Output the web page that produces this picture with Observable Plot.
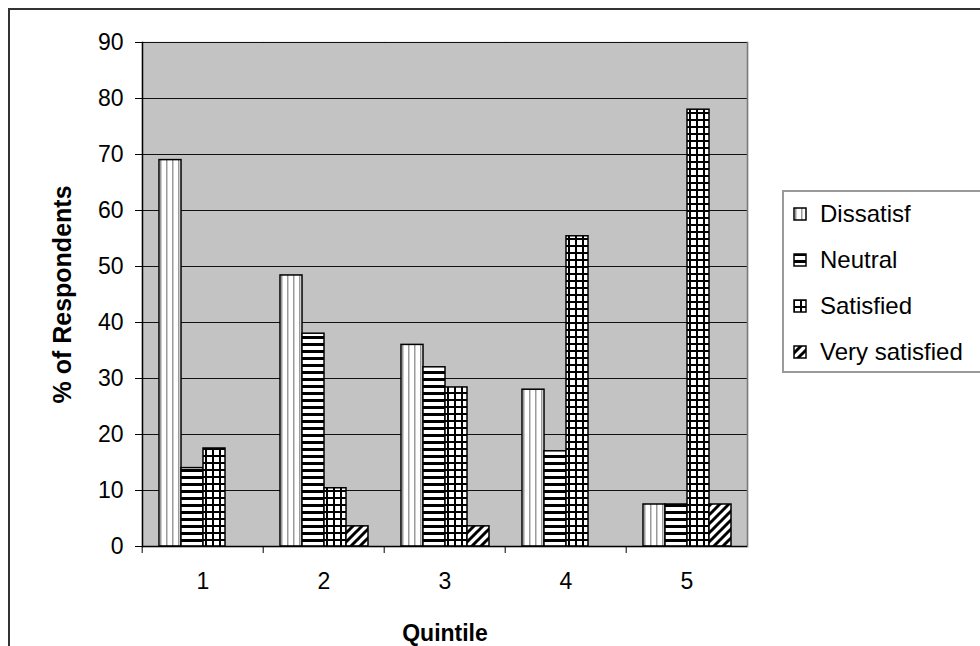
<!DOCTYPE html>
<html><head><meta charset="utf-8">
<script src="https://cdn.jsdelivr.net/npm/d3@7"></script>
<script src="https://cdn.jsdelivr.net/npm/@observablehq/plot@0.6"></script>
<style>
html,body{margin:0;padding:0;background:#fff;}
#wrap{position:relative;width:980px;height:646px;overflow:hidden;font-family:"Liberation Sans",Arial,sans-serif;background:#fff;}
#chart{position:absolute;left:0;top:0;}
#border{position:absolute;left:8px;top:8px;width:1100px;height:1100px;border-left:2px solid #333;border-top:2px solid #333;pointer-events:none;}
#legend{position:absolute;left:782px;top:190px;width:230px;height:183px;border:2px solid #9a9a9a;background:#fff;box-sizing:border-box;}
.item{position:absolute;left:9px;height:26px;display:flex;align-items:center;font-size:24px;color:#000;white-space:nowrap;}
.item svg{margin-right:13px;}
#chart svg [aria-label="y-axis label"]{font-weight:bold;font-size:25px;}
#chart svg [aria-label="fx-axis label"]{font-weight:bold;font-size:23px;}
#chart svg [aria-label="y-axis tick label"],#chart svg [aria-label="fx-axis tick label"]{font-size:23px;}
</style></head>
<body>
<svg width="0" height="0" style="position:absolute">
<defs>
<pattern id="pDis" patternUnits="userSpaceOnUse" width="6" height="6">
  <rect width="6" height="6" fill="#fff"/>
  <rect x="2" width="1.5" height="6" fill="#9a9a9a"/>
</pattern>
<pattern id="pNeu" patternUnits="userSpaceOnUse" width="7" height="7">
  <rect width="7" height="7" fill="#fff"/>
  <rect y="0" width="7" height="3" fill="#000"/>
</pattern>
<pattern id="pSat" patternUnits="userSpaceOnUse" width="7" height="7">
  <rect width="7" height="7" fill="#fff"/>
  <rect width="7" height="2" fill="#000"/>
  <rect width="2" height="7" fill="#000"/>
</pattern>
<pattern id="pVery" patternUnits="userSpaceOnUse" width="9" height="9">
  <rect width="9" height="9" fill="#fff"/>
  <path d="M-2,2 L2,-2 M0,9 L9,0 M7,11 L11,7" stroke="#000" stroke-width="3"/>
</pattern>
</defs>
</svg>
<div id="wrap">
  <div id="chart"></div>
  <div id="legend"></div>
  <div id="border"></div>
</div>
<script>
const quintiles = ["1", "2", "3", "4", "5"];
const seriesNames = ["Dissatisf", "Neutral", "Satisfied", "Very satisfied"];
const dissatisfied = [69, 48.4, 36, 28, 7.5];
const neutral = [14, 38, 32, 17, 7.5];
const satisfied = [17.5, 10.4, 28.4, 55.4, 78];
const verySatisfied = [0, 3.6, 3.6, 0, 7.5];
const yTicks = [0, 10, 20, 30, 40, 50, 60, 70, 80, 90];
const patterns = ["url(#pDis)", "url(#pNeu)", "url(#pSat)", "url(#pVery)"];

const seriesValues = [dissatisfied, neutral, satisfied, verySatisfied];
const rows = [];
quintiles.forEach((q, i) => {
  seriesNames.forEach((s, j) => {
    const v = seriesValues[j][i];
    if (v > 0) rows.push({quintile: q, series: s, value: v});
  });
});

const W = 980, H = 646, mL = 140, mR = 232, mT = 42, mB = 100;
const step = (W - mL - mR) / quintiles.length;

const chart = Plot.plot({
  width: W, height: H,
  marginLeft: mL, marginRight: mR, marginTop: mT, marginBottom: mB,
  style: {fontFamily: "'Liberation Sans', Arial, sans-serif", fontSize: "23px", color: "#000", background: "transparent"},
  fx: {domain: quintiles, padding: 0},
  x: {domain: seriesNames, paddingInner: 0, paddingOuter: 0.7, axis: null},
  y: {domain: [0, 90]},
  color: {domain: seriesNames, range: patterns},
  marks: [
    Plot.frame({fill: "#c3c3c3", stroke: "#c3c3c3", strokeWidth: 1.5}),
    Plot.gridY(yTicks, {stroke: "#111", strokeOpacity: 1, strokeWidth: 1}),
    Plot.frame({anchor: "left", facetAnchor: "left", stroke: "#000", strokeWidth: 1.5}),
    Plot.frame({anchor: "right", facetAnchor: "right", stroke: "#7a7a7a", strokeWidth: 1.5}),
    Plot.barY(rows, {fx: "quintile", x: "series", y: "value", fill: "series", stroke: "#000", strokeWidth: 1.5}),
    Plot.ruleY([0], {stroke: "#000", strokeWidth: 1.5}),
    Plot.axisY(yTicks, {anchor: "left", tickSize: 7, tickPadding: 12, label: "% of Respondents", labelArrow: "none", labelAnchor: "center", labelOffset: 89}),
    Plot.axisFx({anchor: "bottom", tickSize: 0, tickPadding: 26, label: "Quintile", labelArrow: "none", labelAnchor: "center", labelOffset: 94}),
    Plot.axisFx({anchor: "bottom", tickSize: 7, tickFormat: () => "", label: null, dx: -step / 2})
  ]
});
document.getElementById("chart").appendChild(chart);

const legend = document.getElementById("legend");
const centers = [22, 68, 114, 160];
seriesNames.forEach((s, i) => {
  const item = document.createElement("div");
  item.className = "item";
  item.style.top = (centers[i] - 13) + "px";
  item.innerHTML = `<svg width="14" height="14"><rect x="1" y="1" width="12" height="12" fill="${patterns[i]}" stroke="#000" stroke-width="1.5"/></svg><span>${s}</span>`;
  legend.appendChild(item);
});
</script>
</body></html>
